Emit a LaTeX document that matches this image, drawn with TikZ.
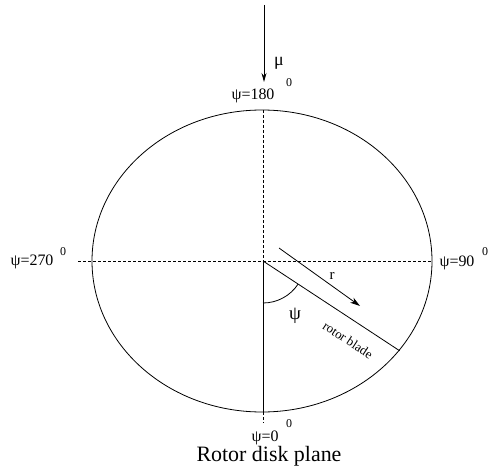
\documentclass[tikz,border=0pt]{standalone}
\usepackage{fontspec}
\setmainfont{Liberation Serif}
\usetikzlibrary{arrows.meta}
\begin{document}
\begin{tikzpicture}[x=1bp,y=-1bp,
  lbl/.style={inner sep=0pt,font=\fontsize{16}{18}\selectfont},
  deg/.style={inner sep=0pt,font=\fontsize{12}{14}\selectfont},
  dline/.style={line width=0.7bp,dash pattern=on 3bp off 2bp},
  sline/.style={line width=0.8bp}]
\useasboundingbox (0,0) rectangle (489,468);
\coordinate (O) at (263,261);
\coordinate (top) at (263,110);
\coordinate (bot) at (263,412);
\coordinate (botd) at (263,423);
\coordinate (left) at (78,261);
\coordinate (right) at (432,261);
\coordinate (tip) at (399.7,350.8);
\coordinate (mus) at (264,5);
\coordinate (mue) at (264,82);
\coordinate (rs) at (279,248);
\coordinate (re) at (360,306);
% disk
\draw[sline] (262,261) ellipse[x radius=170, y radius=151];
% dashed axes
\draw[dline] (top) -- (O);
\draw[dline] (left) -- (right);
\draw[dline] (bot) -- (botd);
% solid lines
\draw[sline] (O) -- (bot);
\draw[sline] (O) -- (tip);
% angle arc
\draw[sline] (O) ++(33.3:42) arc[start angle=33.3, end angle=90, radius=42];
% arrows
\draw[sline,-{Stealth[length=9bp,width=5bp]}] (mus) -- (mue);
\draw[sline,-{Stealth[length=10bp,width=6bp,inset=3bp]}] (rs) -- (re);
% labels
\node[lbl] (mu) at (279,63) {\fontsize{18}{20}\selectfont μ};
\node[lbl] (l180) at (253,96) {ψ=180};
\node[deg] (d180) at (289,83) {0};
\node[lbl] (l270) at (32,262) {ψ=270};
\node[deg] (d270) at (63,252) {0};
\node[lbl] (l90) at (457,263) {ψ=90};
\node[deg] (d90) at (485,252) {0};
\node[lbl] (l0) at (265,438) {ψ=0};
\node[deg] (d0) at (289,424) {0};
\node[inner sep=0pt,font=\fontsize{19}{21}\selectfont] (psi) at (295,316) {ψ};
\node[inner sep=0pt,font=\fontsize{15}{17}\selectfont] (r) at (332,276) {r};
\node[inner sep=0pt,font=\fontsize{13}{15}\selectfont,rotate=-33.3] (rb) at (348,340) {rotor blade};
\node[inner sep=0pt,font=\fontsize{22}{24}\selectfont] (title) at (269,456) {Rotor disk plane};
\end{tikzpicture}
\end{document}
